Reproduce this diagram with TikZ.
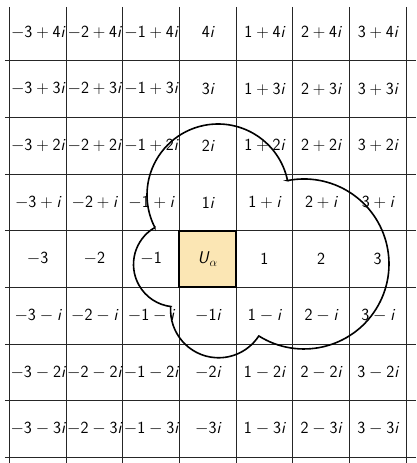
\documentclass[tikz,border=0pt]{standalone}
\usepackage{fontspec}
\usetikzlibrary{calc}
\definecolor{cellfill}{RGB}{251,230,180}
\newcommand{\zd}[1]{\mathsf{#1}}
\newcommand{\zi}{\textit{i}}
\begin{document}
\begin{tikzpicture}[x=56.67pt,y=56.67pt,
  gridline/.style={line width=0.9pt,black!85},
  lbl/.style={font=\sffamily\fontsize{17}{20}\selectfont,inner sep=0pt},
  hicell/.style={draw=black,line width=1.8pt},
  blob/.style={draw=black,line width=1.6pt,line join=miter}]
\useasboundingbox (-3.665,-3.600) rectangle (3.676,4.570);
% highlighted cell fill
\fill[cellfill] (-0.5,-0.5) rectangle (0.5,0.5);
% grid
\foreach \k in {-3.5,-2.5,...,3.5} {
  \draw[gridline] (\k,4.447) -- (\k,-3.6);
  \draw[gridline] (-3.577,\k) -- (3.676,\k);
}
\draw[hicell] (-0.5,-0.5) rectangle (0.5,0.5);
% labels
\foreach \lab [count=\k from -3] in {{$-\zd{3}+\zd{4}\zi$},{$-\zd{2}+\zd{4}\zi$},{$-\zd{1}+\zd{4}\zi$},{$\zd{4}\zi$},{$\zd{1}+\zd{4}\zi$},{$\zd{2}+\zd{4}\zi$},{$\zd{3}+\zd{4}\zi$}}
  \node[lbl] (r4c\k) at (\k,4) {\lab};
\foreach \lab [count=\k from -3] in {{$-\zd{3}+\zd{3}\zi$},{$-\zd{2}+\zd{3}\zi$},{$-\zd{1}+\zd{3}\zi$},{$\zd{3}\zi$},{$\zd{1}+\zd{3}\zi$},{$\zd{2}+\zd{3}\zi$},{$\zd{3}+\zd{3}\zi$}}
  \node[lbl] (r3c\k) at (\k,3) {\lab};
\foreach \lab [count=\k from -3] in {{$-\zd{3}+\zd{2}\zi$},{$-\zd{2}+\zd{2}\zi$},{$-\zd{1}+\zd{2}\zi$},{$\zd{2}\zi$},{$\zd{1}+\zd{2}\zi$},{$\zd{2}+\zd{2}\zi$},{$\zd{3}+\zd{2}\zi$}}
  \node[lbl] (r2c\k) at (\k,2) {\lab};
\foreach \lab [count=\k from -3] in {{$-\zd{3}+\zi$},{$-\zd{2}+\zi$},{$-\zd{1}+\zi$},{$\zd{1}\zi$},{$\zd{1}+\zi$},{$\zd{2}+\zi$},{$\zd{3}+\zi$}}
  \node[lbl] (r1c\k) at (\k,1) {\lab};
\foreach \lab [count=\k from -3] in {{$-\zd{3}$},{$-\zd{2}$},{$-\zd{1}$},{\textit{U}$_\alpha$},{$\zd{1}$},{$\zd{2}$},{$\zd{3}$}}
  \node[lbl] (r0c\k) at (\k,0) {\lab};
\foreach \lab [count=\k from -3] in {{$-\zd{3}-\zi$},{$-\zd{2}-\zi$},{$-\zd{1}-\zi$},{$-\zd{1}\zi$},{$\zd{1}-\zi$},{$\zd{2}-\zi$},{$\zd{3}-\zi$}}
  \node[lbl] (rm1c\k) at (\k,-1) {\lab};
\foreach \lab [count=\k from -3] in {{$-\zd{3}-\zd{2}\zi$},{$-\zd{2}-\zd{2}\zi$},{$-\zd{1}-\zd{2}\zi$},{$-\zd{2}\zi$},{$\zd{1}-\zd{2}\zi$},{$\zd{2}-\zd{2}\zi$},{$\zd{3}-\zd{2}\zi$}}
  \node[lbl] (rm2c\k) at (\k,-2) {\lab};
\foreach \lab [count=\k from -3] in {{$-\zd{3}-\zd{3}\zi$},{$-\zd{2}-\zd{3}\zi$},{$-\zd{1}-\zd{3}\zi$},{$-\zd{3}\zi$},{$\zd{1}-\zd{3}\zi$},{$\zd{2}-\zd{3}\zi$},{$\zd{3}-\zd{3}\zi$}}
  \node[lbl] (rm3c\k) at (\k,-3) {\lab};
% blob made of four circular arcs
\coordinate (A) at (0.182,1.129);
\coordinate (B) at (1.699,-0.088);
\coordinate (C) at (0.192,-0.896);
\coordinate (D) at (-0.559,-0.095);
\draw[blob] ($(A)+(11.7:1.2529)$) arc[start angle=11.7, end angle=207.26, radius=1.2529]
  -- ($(D)+(119.8:0.75)$) arc[start angle=119.8, end angle=262.85, radius=0.75]
  -- ($(C)+(176.2:0.847)$) arc[start angle=176.2, end angle=326.9, radius=0.847]
  -- ($(B)+(237.9:1.4999)$) arc[start angle=237.9, end angle=461.2, radius=1.4999]
  -- cycle;
\end{tikzpicture}
\end{document}
